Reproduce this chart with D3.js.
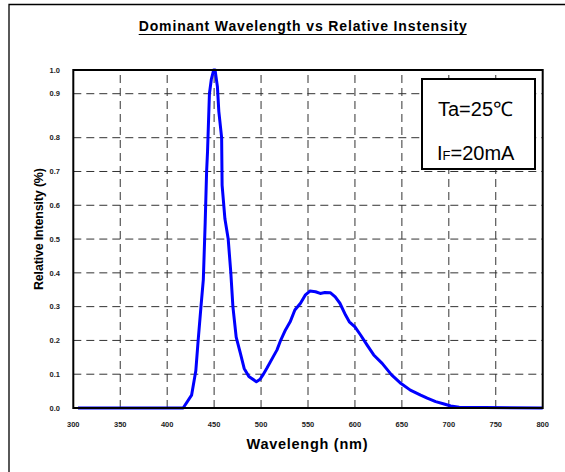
<!DOCTYPE html>
<html>
<head>
<meta charset="utf-8">
<script src="https://cdn.jsdelivr.net/npm/d3@7"></script>
<style>
  body { margin: 0; background: #fff; }
  text { font-family: "Liberation Sans", Arial, sans-serif; }
</style>
</head>
<body>
<div id="chart"></div>
<script>
// spectrum
var wavelengths = [305, 417, 426, 430.5, 433, 436, 438.5, 440.5, 442, 443, 445, 447, 449.5, 451, 453.5, 455, 458, 458.5, 461.5, 465, 467.8, 470, 473.5, 478, 482, 487, 495, 499, 502, 506, 513, 517, 521, 526, 531, 536, 542, 547, 552, 558, 563, 568, 574, 579, 584, 590, 594, 600, 606, 613, 620, 629, 639, 648, 659, 670, 677, 686, 695, 702, 711, 800];
var intensity = [0, 0, 0.038, 0.11, 0.20, 0.30, 0.38, 0.55, 0.70, 0.76, 0.90, 0.96, 1.0, 1.0, 0.93, 0.86, 0.80, 0.66, 0.56, 0.50, 0.40, 0.30, 0.21, 0.162, 0.117, 0.093, 0.078, 0.085, 0.098, 0.117, 0.152, 0.172, 0.201, 0.231, 0.255, 0.29, 0.31, 0.334, 0.346, 0.344, 0.339, 0.342, 0.341, 0.329, 0.31, 0.275, 0.255, 0.24, 0.216, 0.186, 0.157, 0.132, 0.098, 0.075, 0.053, 0.038, 0.029, 0.019, 0.012, 0.006, 0.002, 0];

var xTicks = [300, 350, 400, 450, 500, 550, 600, 650, 700, 750, 800];
var yTicks = [0, 0.1, 0.2, 0.3, 0.4, 0.5, 0.6, 0.7, 0.8, 0.9, 1.0];

var titleText = "Dominant Wavelength vs Relative Instensity";
var xTitle = "Wavelengh (nm)";
var yTitle = "Relative Intensity (%)";

var svgWidth = 565, svgHeight = 472;
var plot = {left: 73.3, right: 542.7, top: 70, bottom: 408};

var svg = d3.select("#chart").append("svg")
  .attr("width", svgWidth)
  .attr("height", svgHeight);

// outer frame (only left and top edges are visible)
svg.append("path")
  .attr("d", "M9," + (svgHeight + 5) + "V4.5H" + (svgWidth + 5))
  .attr("fill", "none")
  .attr("stroke", "#000")
  .attr("stroke-width", 1.3);

var x = d3.scaleLinear().domain([300, 800]).range([plot.left, plot.right]);
// the picture's grid is not evenly spaced at the top
var y = d3.scaleLinear().domain([0, 0.8, 0.9, 1.0]).range([plot.bottom, 137.7, 93.7, plot.top]);

// grid
svg.append("g").selectAll("line")
  .data(yTicks.slice(1, -1))
  .join("line")
  .attr("x1", plot.left).attr("x2", plot.right)
  .attr("y1", d => y(d)).attr("y2", d => y(d))
  .attr("stroke", "#333")
  .attr("stroke-dasharray", "8,5");

svg.append("g").selectAll("line")
  .data(xTicks.slice(1, -1))
  .join("line")
  .attr("x1", d => x(d)).attr("x2", d => x(d))
  .attr("y1", plot.bottom).attr("y2", plot.top)
  .attr("stroke", "#333")
  .attr("stroke-dasharray", "8,5");

// tick labels
svg.append("g").selectAll("text")
  .data(yTicks)
  .join("text")
  .attr("x", 60)
  .attr("y", d => y(d) + 2.7)
  .attr("text-anchor", "end")
  .attr("font-size", "7.5px")
  .attr("font-weight", "bold")
  .attr("fill", "#222")
  .text(d => d3.format(".1f")(d));

svg.append("g").selectAll("text")
  .data(xTicks)
  .join("text")
  .attr("x", d => x(d))
  .attr("y", 427)
  .attr("text-anchor", "middle")
  .attr("font-size", "7.5px")
  .attr("font-weight", "bold")
  .attr("fill", "#222")
  .text(d => d);

// curve
var line = d3.line()
  .x(d => x(d[0]))
  .y(d => y(d[1]));

svg.append("path")
  .datum(d3.zip(wavelengths, intensity))
  .attr("d", line)
  .attr("fill", "none")
  .attr("stroke", "#0000ff")
  .attr("stroke-width", 3)
  .attr("stroke-linejoin", "round");

// plot frame
svg.append("rect")
  .attr("x", plot.left).attr("y", plot.top)
  .attr("width", plot.right - plot.left)
  .attr("height", plot.bottom - plot.top)
  .attr("fill", "none")
  .attr("stroke", "#000")
  .attr("stroke-width", 2);

// titles
svg.append("text")
  .attr("x", 302.7).attr("y", 30.5)
  .attr("text-anchor", "middle")
  .attr("font-size", "14px")
  .attr("font-weight", "bold")
  .attr("textLength", 328)
  .attr("lengthAdjust", "spacing")
  .text(titleText);
svg.append("line")
  .attr("x1", 138.7).attr("x2", 466.7)
  .attr("y1", 34.5).attr("y2", 34.5)
  .attr("stroke", "#000")
  .attr("stroke-width", 1.2);

svg.append("text")
  .attr("x", 307).attr("y", 449)
  .attr("text-anchor", "middle")
  .attr("font-size", "14.5px")
  .attr("font-weight", "bold")
  .attr("textLength", 121)
  .attr("lengthAdjust", "spacing")
  .text(xTitle);

svg.append("text")
  .attr("transform", "translate(43,229) rotate(-90)")
  .attr("text-anchor", "middle")
  .attr("font-size", "12.5px")
  .attr("font-weight", "bold")
  .attr("textLength", 122)
  .attr("lengthAdjust", "spacing")
  .text(yTitle);

// condition box
var box = svg.append("g");
box.append("rect")
  .attr("x", 422).attr("y", 79)
  .attr("width", 113).attr("height", 90)
  .attr("fill", "#fff")
  .attr("stroke", "#000")
  .attr("stroke-width", 2);
box.append("text")
  .attr("x", 438).attr("y", 116)
  .attr("font-size", "20px")
  .text("Ta=25℃");
var cond = box.append("text")
  .attr("x", 437).attr("y", 160)
  .attr("font-size", "20px");
cond.append("tspan").text("I");
cond.append("tspan").attr("font-size", "13px").text("F");
cond.append("tspan").text("=20mA");
</script>
</body>
</html>
